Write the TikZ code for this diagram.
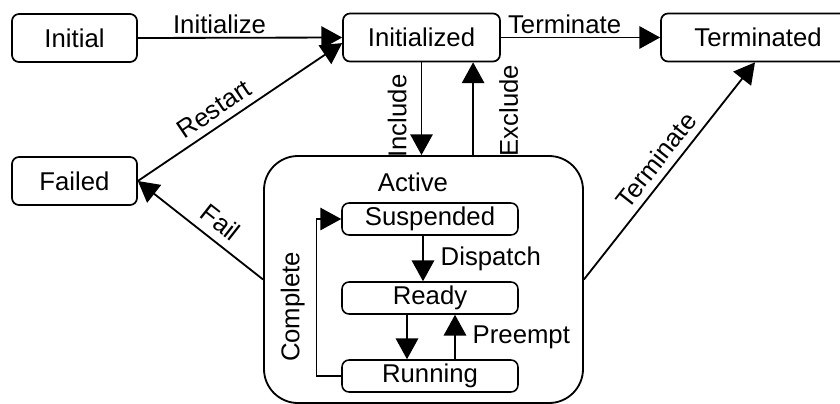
\documentclass[tikz,border=0pt]{standalone}
\usepackage{fontspec}
\setmainfont{Liberation Sans}
\usetikzlibrary{arrows.meta,positioning}

\begin{document}
\begin{tikzpicture}[
font=\fontsize{18.3}{22}\selectfont,
state/.style={draw=black, line width=1.2pt, rounded corners=5pt, fill=white, align=center, minimum height=1.2cm, inner sep=2pt},
substate/.style={draw=black, line width=1.1pt, rounded corners=5pt, fill=white, align=center, minimum width=4.4cm, minimum height=0.8cm, inner sep=1pt},
superstate/.style={draw=black, line width=1.3pt, rounded corners=0.85cm, minimum width=7.975cm, minimum height=6.175cm},
arrow/.style={-{Triangle[length=5.2mm,width=5.6mm]}, draw=black, line width=1.3pt},
thinarrow/.style={-{Triangle[length=5.2mm,width=5.6mm]}, draw=black, line width=0.9pt},
trans/.style={inner sep=2pt}
]
\clip (0,0) rectangle (21,-10.1);

\node[state, minimum width=3.125cm] (initial) at (1.8625,-0.95) {Initial};
\node[state, minimum width=3.925cm] (initialized) at (10.5375,-0.9375) {Initialized};
\node[state, minimum width=4.85cm] (terminated) at (18.95,-0.9375) {Terminated};
\node[state, minimum width=3.125cm] (failed) at (1.8625,-4.525) {Failed};

\node[superstate] (active) at (10.5875,-6.9875) {};
\node (activelabel) at (10.325,-4.55) {Active};
\node[substate] (suspended) at (10.75,-5.475) {Suspended};
\node[substate] (ready) at (10.75,-7.45) {Ready};
\node[substate] (running) at (10.75,-9.4) {Running};

\draw[arrow] (initial.east) -- node[trans, pos=0.4, above] {Initialize} (initialized.west);
\draw[arrow] (initialized.east) -- node[trans, pos=0.4, above] {Terminate} (terminated.west);
\draw[arrow] (failed.east) -- node[trans, pos=0.42, sloped, above=3pt] {Restart} ([yshift=-0.14cm]initialized.west);
\draw[arrow] (active.west) -- node[trans, pos=0.43, sloped, above=4pt] {Fail} (failed.east);
\draw[arrow] (active.east) -- node[trans, pos=0.5, sloped, above=3pt] {Terminate} ([xshift=-0.075cm]terminated.south);

\draw[arrow] (initialized.south) -- node[trans, pos=0.58, rotate=90, anchor=south, yshift=8pt] {Include} (initialized.south |- active.north);
\draw[arrow] ([xshift=1.29cm]initialized.south |- active.north) -- node[trans, pos=0.48, rotate=90, anchor=north, yshift=-16pt] {Exclude} ([xshift=1.29cm]initialized.south);

\draw[arrow] ([xshift=-0.175cm]suspended.south) -- node[trans, right=0.35cm] {Dispatch} ([xshift=-0.175cm]suspended.south |- ready.north);
\draw[arrow] ([xshift=-0.575cm]ready.south) -- ([xshift=-0.575cm]ready.south |- running.north);
\draw[arrow] ([xshift=0.625cm]running.north) -- node[trans, right=0.35cm] {Preempt} ([xshift=0.625cm]running.north |- ready.south);
\draw[thinarrow] (running.west) -- ++(-0.625,0) |- node[trans, pos=0.22, sloped, above=0.2cm] {Complete} (suspended.west);
\end{tikzpicture}
\end{document}
